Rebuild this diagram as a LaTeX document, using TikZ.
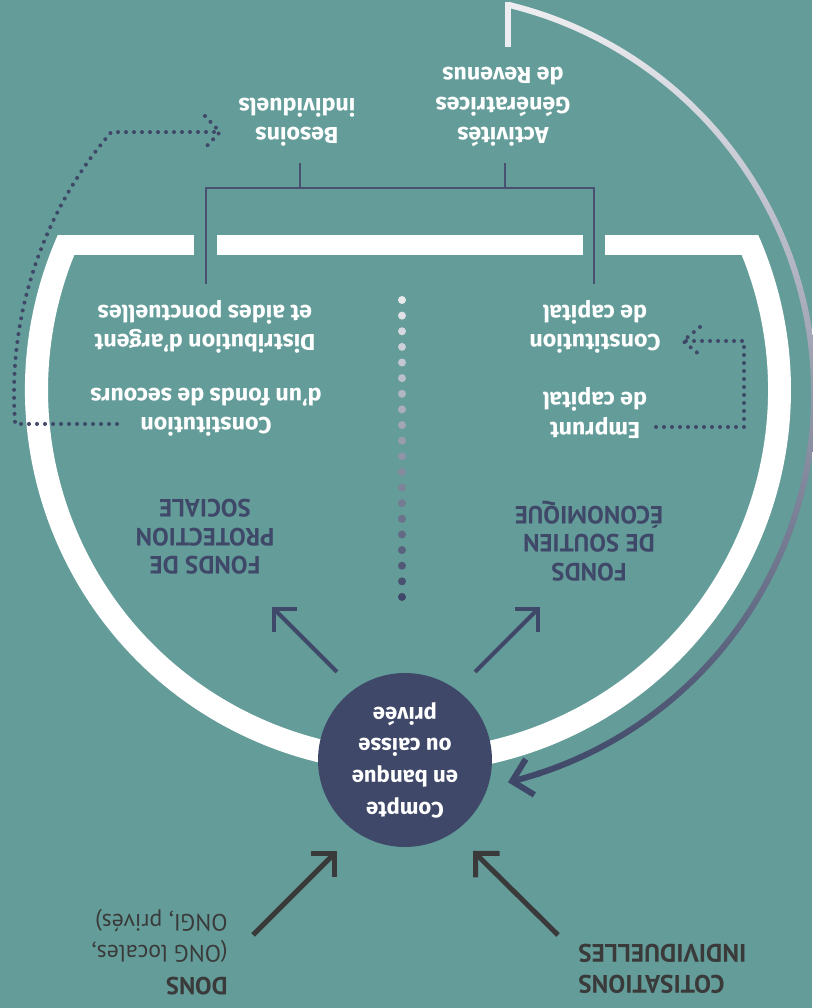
\documentclass[tikz,border=0pt]{standalone}
\usepackage{fontspec}
\setmainfont{Fira Sans}
\newfontfamily\ptsans{PT Sans}
\usetikzlibrary{arrows.meta,calc}

\definecolor{bgteal}{HTML}{639C98}
\definecolor{fundnavy}{HTML}{3F4868}
\definecolor{linenavy}{HTML}{4A5070}
\definecolor{arrowgrey}{HTML}{3A3A3A}
\definecolor{arctop}{HTML}{EEEEF2}

\begin{document}
\begin{tikzpicture}[x=0.02cm, y=0.02cm,
  lbl/.style={text=white, font=\bfseries\fontsize{13.2}{16.8}\selectfont, align=center, rotate=180, inner sep=0pt},
  fundtitle/.style={text=fundnavy, font=\ptsans\bfseries\fontsize{14.2}{16.2}\selectfont, align=center, rotate=180, inner sep=0pt},
  dotline/.style={fundnavy, line width=0.08cm, line cap=round, dash pattern=on 0pt off 0.16cm},
  bracket/.style={linenavy, line width=0.05cm},
  inarrow/.style={arrowgrey, line width=0.1cm, -{Straight Barb[angle=90:0.48cm]}},
  outarrow/.style={fundnavy, line width=0.08cm, -{Straight Barb[angle=90:0.46cm]}}]

\useasboundingbox (0,0) rectangle (812,1008);
\fill[bgteal] (0,0) rectangle (812,1008);

% centres of the white cup and of the outer arcs
\coordinate (cup) at (408,618);
\coordinate (loop) at (414,614.5);

% white cup
\fill[white] ([shift={(cup)}]156.13:383) arc[start angle=156.13, end angle=383.87, radius=383]
  -- ([shift={(cup)}]21.96:360) arc[start angle=381.96, end angle=158.04, radius=360] -- cycle;
\fill[white] (57.8,753) rectangle (194,773);
\fill[white] (217,753) rectangle (583,773);
\fill[white] (605,753) rectangle (758.2,773);

% big return arrow
\fill[arctop] (505,961) rectangle (511,1006);
\shade[top color=arctop, bottom color=fundnavy] ([shift={(loop)}]76.4:403) arc[start angle=76.4, end angle=-72, radius=403]
  -- ([shift={(loop)}]-72:397) arc[start angle=-72, end angle=76.4, radius=397] -- cycle;
\draw[fundnavy, line width=0.12cm, -{Straight Barb[angle=90:0.52cm]}] ([shift={(loop)}]-71.5:400) arc[start angle=-71.5, end angle=-76.4, radius=400];

% texts
\node[lbl] (besoins) at (297,886) {Besoins\\individuels};
\node[lbl] (activites) at (503,901) {Activités\\Génératrices\\de Revenus};
\node[lbl] (distrib) at (205,681) {Distribution d'argent\\et aides ponctuelles};
\node[lbl] (secours) at (206,596) {Constitution\\d'un fonds de secours};
\node[lbl] (capital) at (595,681) {Constitution\\de capital};
\node[lbl] (emprunt) at (595,595) {Emprunt\\de capital};
\node[fundtitle] (protection) at (205,471) {FONDS DE\\PROTECTION\\SOCIALE};
\node[fundtitle] (soutien) at (589,467) {FONDS\\DE SOUTIEN\\ÉCONOMIQUE};
\node[circle, fill=fundnavy, minimum size=3.48cm, inner sep=0pt, rotate=180, align=center, text=white,
  font=\bfseries\fontsize{12.6}{18}\selectfont] (compte) at (405,248) {Compte\\en banque\\ou caisse\\privée};
\node[rotate=180, anchor=west, inner sep=0pt, align=left, text=arrowgrey, font=\ptsans\fontsize{13.5}{18}\selectfont] (dons) at (228,56)
  {{\bfseries\fontsize{14}{18}\selectfont DONS}\\(ONG locales,\\ONGI, privés)};
\node[rotate=180, anchor=east, inner sep=0pt, align=right, text=arrowgrey, font=\ptsans\bfseries\fontsize{14.4}{18}\selectfont] (cotis) at (578,39)
  {COTISATIONS\\INDIVIDUELLES};

% bracket
\coordinate (besoinsfoot) at (300,845);
\coordinate (activitesfoot) at (505,845);
\coordinate (distribtop) at (206,724);
\coordinate (capitaltop) at (594,724);
\draw[bracket] (distribtop) -- (distribtop |- 0,820) -- (capitaltop |- 0,820) -- (capitaltop);
\draw[bracket] (besoinsfoot) -- (besoinsfoot |- 0,820);
\draw[bracket] (activitesfoot) -- (activitesfoot |- 0,820);

% dotted divider
\foreach \i in {0,...,19}{
  \pgfmathsetmacro\pct{88-4.63*\i}
  \fill[white!\pct!fundnavy] (402,708-15.63*\i) circle[radius=4];
}

% dotted flows
\coordinate (secoursend) at (117,584);
\coordinate (besoinstip) at (220,876);
\draw[dotline] (secoursend) -- ([shift={(loop)}]184.37:400) arc[start angle=184.37, end angle=139.2, radius=400] -- (besoinstip);
\draw[dotline] ($(besoinstip)+(-15,16)$) -- (besoinstip) -- ($(besoinstip)+(-15,-16)$);
\coordinate (empruntend) at (656,581);
\coordinate (capitaltip) at (683,667);
\draw[dotline] (empruntend) -- (744,581) -- (744,667) -- (capitaltip);
\draw[dotline] ($(capitaltip)+(17,14)$) -- (capitaltip) -- ($(capitaltip)+(17,-14)$);

% arrows round the account
\coordinate (protip) at (272,401);
\coordinate (soutip) at (540,401);
\coordinate (donsstart) at (253,73);
\coordinate (cotisstart) at (558,73);
\draw[outarrow] (337,336) -- (protip);
\draw[outarrow] (475,336) -- (soutip);
\draw[inarrow] (donsstart) -- (337,157);
\draw[inarrow] (cotisstart) -- (473,157);
\end{tikzpicture}
\end{document}
